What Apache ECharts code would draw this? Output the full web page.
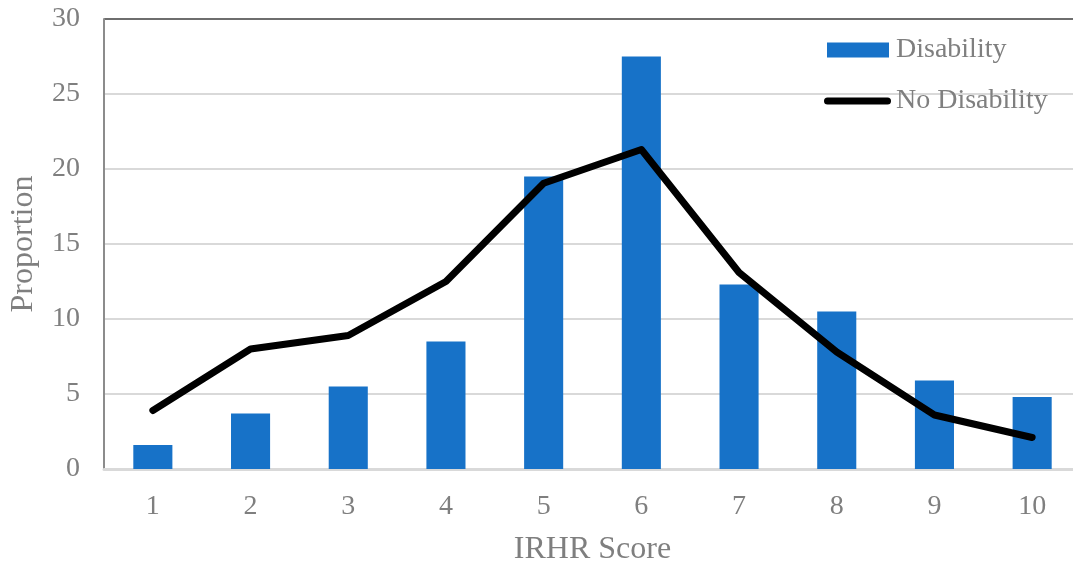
<!DOCTYPE html>
<html>
<head>
<meta charset="utf-8">
<script src="https://cdn.jsdelivr.net/npm/echarts@6/dist/echarts.min.js"></script>
<style>
html,body{margin:0;padding:0;background:#fff;}
#chart{width:1073px;height:562px;}
</style>
</head>
<body>
<div id="chart"></div>
<script>
const categories = ['1','2','3','4','5','6','7','8','9','10'];
const disability = [1.6, 3.7, 5.5, 8.5, 19.5, 27.5, 12.3, 10.5, 5.9, 4.8];
const noDisability = [3.9, 8.0, 8.9, 12.5, 19.05, 21.3, 13.1, 7.8, 3.6, 2.1];
const yTicks = {min: 0, max: 30, interval: 5};

const font = '"Liberation Serif", "Times New Roman", serif';
const gray = '#7f7f7f';
const chart = echarts.init(document.getElementById('chart'));
chart.setOption({
  animation: false,
  textStyle: {fontFamily: font},
  grid: {left: 104, top: 19, width: 977, height: 450, containLabel: false, outerBoundsMode: 'none'},
  legend: [
    {
      data: [{name: 'Disability', icon: 'rect'}],
      left: 827, top: 36, padding: 0,
      itemWidth: 62, itemHeight: 15,
      textStyle: {fontFamily: font, fontSize: 28, color: gray, padding: [0,0,0,2]},
      selectedMode: false
    },
    {
      data: [{name: 'No Disability', icon: 'path://M3.5,0 L63.5,0 A3.5,3.5 0 0 1 63.5,7 L3.5,7 A3.5,3.5 0 0 1 3.5,0 Z', itemStyle: {color: '#000'}}],
      left: 824, top: 87, padding: 0,
      itemWidth: 67, itemHeight: 7,
      textStyle: {fontFamily: font, fontSize: 28, color: gray},
      selectedMode: false
    }
  ],
  xAxis: {
    type: 'category',
    data: categories,
    name: 'IRHR Score',
    nameLocation: 'middle',
    nameGap: 65,
    nameTextStyle: {fontFamily: font, fontSize: 32, color: gray},
    axisLine: {lineStyle: {color: '#d9d9d9', width: 3}},
    axisTick: {show: false},
    axisLabel: {fontFamily: font, fontSize: 28, color: gray, margin: 24}
  },
  yAxis: {
    type: 'value',
    min: yTicks.min, max: yTicks.max, interval: yTicks.interval,
    name: 'Proportion',
    nameLocation: 'middle',
    nameGap: 64,
    nameTextStyle: {fontFamily: font, fontSize: 32, color: gray},
    axisLine: {show: true, lineStyle: {color: '#8c8c8c', width: 2}},
    axisTick: {show: false},
    axisLabel: {fontFamily: font, fontSize: 28, color: gray, margin: 24},
    splitLine: {lineStyle: {color: ['#d9d9d9','#d9d9d9','#d9d9d9','#d9d9d9','#d9d9d9','#d9d9d9','#6e6e6e'], width: 2}}
  },
  series: [
    {
      name: 'Disability',
      type: 'bar',
      data: disability,
      barWidth: '40%',
      itemStyle: {color: '#1772c8'}
    },
    {
      name: 'No Disability',
      type: 'line',
      data: noDisability,
      symbol: 'none',
      lineStyle: {color: '#000', width: 7, cap: 'round', join: 'round'},
      itemStyle: {color: '#000'},
      z: 5
    }
  ]
});
</script>
</body>
</html>
